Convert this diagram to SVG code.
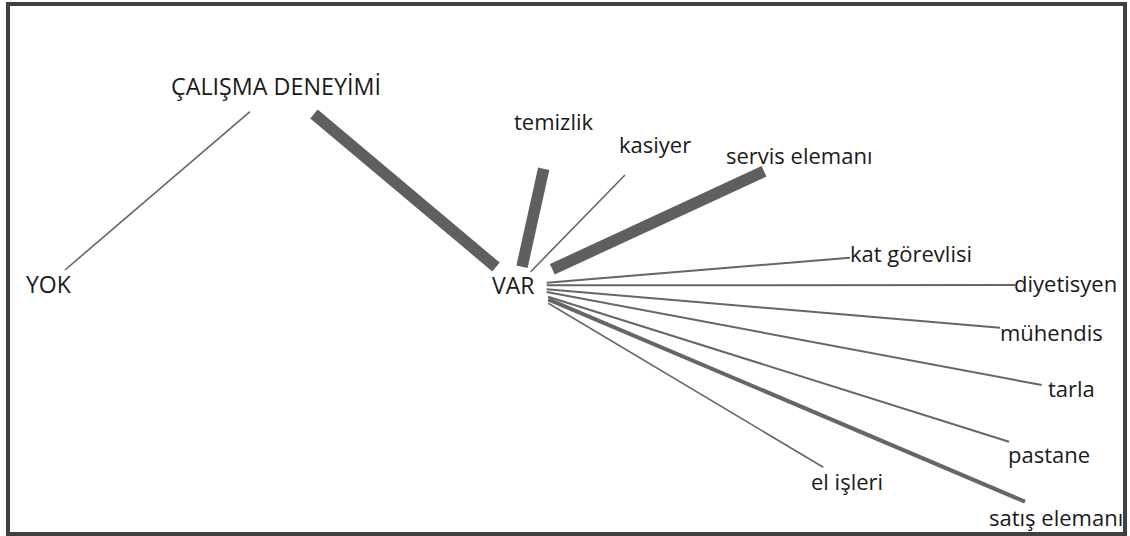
<svg xmlns="http://www.w3.org/2000/svg" width="1130" height="536" viewBox="0 0 1130 536">
<style>
.lbl{font-family:"Open Sans","Noto Sans","DejaVu Sans",sans-serif;font-size:22px;fill:#1a1a1a}
.cap{font-size:23px}
.e{stroke:#666666;fill:none;stroke-linecap:butt}
.thin{stroke-width:1.6}
.mid{stroke-width:2}
.med{stroke-width:4}
.thick{stroke-width:11.5;stroke:#5f5f5f}
</style>
<rect x="0" y="0" width="1130" height="536" fill="#ffffff"/>
<rect x="8" y="4" width="1117" height="530" fill="#ffffff" stroke="#404040" stroke-width="4"/>
<g id="connectors">
<line class="e thin" x1="250" y1="111.7" x2="65" y2="270"/>
<line class="e thick" x1="314" y1="114" x2="496" y2="267"/>
<line class="e thick" x1="543.7" y1="168.7" x2="522" y2="266.7"/>
<line class="e thin" x1="625" y1="175" x2="530.7" y2="271.7"/>
<line class="e thick" x1="764" y1="171.3" x2="552.3" y2="269.3"/>
<line class="e mid" x1="546.7" y1="282.7" x2="850" y2="257.7"/>
<line class="e mid" x1="546.7" y1="285.3" x2="1015" y2="285"/>
<line class="e mid" x1="546.7" y1="289.3" x2="1000" y2="327.7"/>
<line class="e mid" x1="546.7" y1="292" x2="1041.7" y2="385"/>
<line class="e mid" x1="548" y1="296.7" x2="1009" y2="441.7"/>
<line class="e med" x1="548.3" y1="299.3" x2="1025" y2="501.7"/>
<line class="e thin" x1="548.3" y1="303.3" x2="823.3" y2="467.3"/>
</g>
<g id="n-calisma"><text class="lbl cap" x="171" y="95" textLength="210" lengthAdjust="spacingAndGlyphs">ÇALIŞMA DENEYİMİ</text></g>
<g id="n-yok"><text class="lbl cap" x="26" y="293">YOK</text></g>
<g id="n-var"><text class="lbl cap" x="492" y="294">VAR</text></g>
<g id="n-temizlik"><text class="lbl" x="514" y="130">temizlik</text></g>
<g id="n-kasiyer"><text class="lbl" x="619" y="153">kasiyer</text></g>
<g id="n-servis"><text class="lbl" x="726" y="164">servis elemanı</text></g>
<g id="n-kat"><text class="lbl" x="850" y="262">kat görevlisi</text></g>
<g id="n-diyetisyen"><text class="lbl" x="1014" y="292">diyetisyen</text></g>
<g id="n-muhendis"><text class="lbl" x="1000" y="341">mühendis</text></g>
<g id="n-tarla"><text class="lbl" x="1048" y="397">tarla</text></g>
<g id="n-pastane"><text class="lbl" x="1008" y="463">pastane</text></g>
<g id="n-elisleri"><text class="lbl" x="811" y="490">el işleri</text></g>
<g id="n-satis"><text class="lbl" x="989" y="526">satış elemanı</text></g>
</svg>
